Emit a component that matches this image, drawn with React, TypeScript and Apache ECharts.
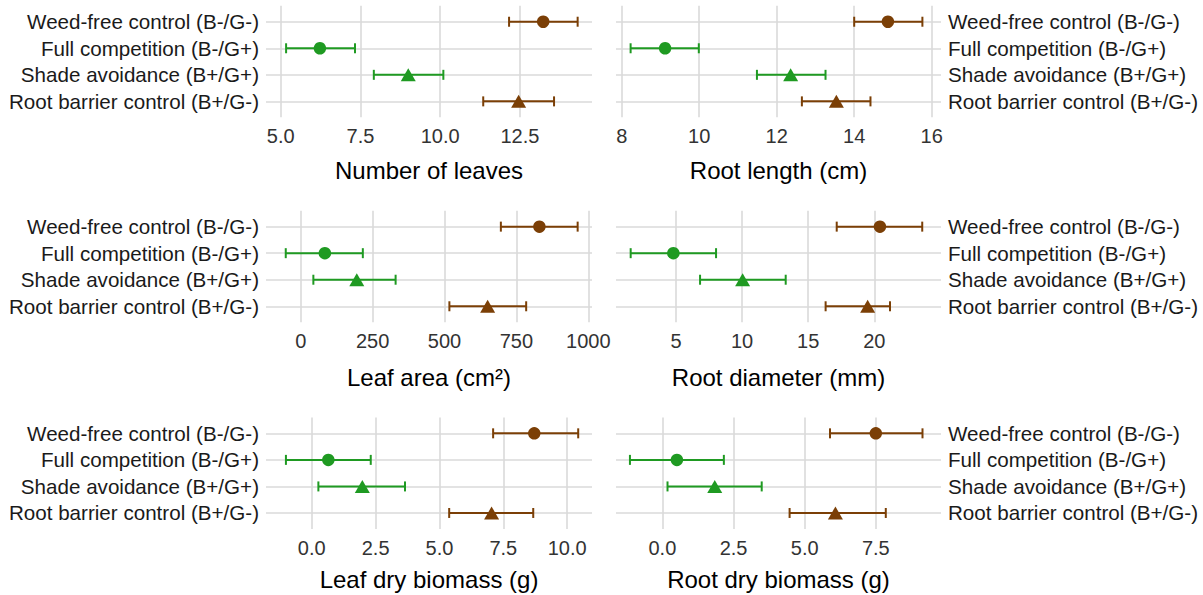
import React, { useEffect, useRef } from "react";
import * as echarts from "echarts";

// ---------- data ----------
const categories = [
  "Weed-free control (B-/G-)",
  "Full competition (B-/G+)",
  "Shade avoidance (B+/G+)",
  "Root barrier control (B+/G-)",
];
const categoryGroup = ["brown", "green", "green", "brown"];
const categoryShape = ["circle", "circle", "triangle", "triangle"];

const leavesMean = [13.23, 6.23, 9.0, 12.46];
const leavesLow = [12.16, 5.17, 7.92, 11.35];
const leavesHigh = [14.31, 7.33, 10.1, 13.57];
const leavesTicks = [5, 7.5, 10, 12.5];

const rootLengthMean = [14.87, 9.12, 12.36, 13.54];
const rootLengthLow = [14.0, 8.23, 11.49, 12.65];
const rootLengthHigh = [15.76, 9.99, 13.26, 14.42];
const rootLengthTicks = [8, 10, 12, 14, 16];

const leafAreaMean = [830, 84, 195, 650];
const leafAreaLow = [696, -52, 44, 517];
const leafAreaHigh = [963, 216, 330, 784];
const leafAreaTicks = [0, 250, 500, 750, 1000];

const rootDiameterMean = [20.43, 4.8, 10.04, 19.5];
const rootDiameterLow = [17.16, 1.57, 6.82, 16.32];
const rootDiameterHigh = [23.63, 8.03, 13.3, 21.19];
const rootDiameterTicks = [5, 10, 15, 20];

const leafBiomassMean = [8.71, 0.65, 1.98, 7.04];
const leafBiomassLow = [7.1, -1.01, 0.26, 5.38];
const leafBiomassHigh = [10.43, 2.31, 3.65, 8.67];
const leafBiomassTicks = [0, 2.5, 5, 7.5, 10];

const rootBiomassMean = [7.5, 0.51, 1.84, 6.08];
const rootBiomassLow = [5.89, -1.14, 0.18, 4.47];
const rootBiomassHigh = [9.14, 2.16, 3.49, 7.85];
const rootBiomassTicks = [0, 2.5, 5, 7.5];

const panels = [
  { title: "Number of leaves", mean: leavesMean, low: leavesLow, high: leavesHigh, ticks: leavesTicks, min: 4.54, max: 14.76, dec: 1 },
  { title: "Root length (cm)", mean: rootLengthMean, low: rootLengthLow, high: rootLengthHigh, ticks: rootLengthTicks, min: 7.853, max: 16.24, dec: 0 },
  { title: "Leaf area (cm²)", mean: leafAreaMean, low: leafAreaLow, high: leafAreaHigh, ticks: leafAreaTicks, min: -120.7, max: 1012.9, dec: 0 },
  { title: "Root diameter (mm)", mean: rootDiameterMean, low: rootDiameterLow, high: rootDiameterHigh, ticks: rootDiameterTicks, min: 0.46, max: 25.05, dec: 0 },
  { title: "Leaf dry biomass (g)", mean: leafBiomassMean, low: leafBiomassLow, high: leafBiomassHigh, ticks: leafBiomassTicks, min: -1.79, max: 10.97, dec: 1 },
  { title: "Root dry biomass (g)", mean: rootBiomassMean, low: rootBiomassLow, high: rootBiomassHigh, ticks: rootBiomassTicks, min: -1.63, max: 9.79, dec: 1 },
];

// ---------- styles ----------
const COLORS: Record<string, string> = { brown: "#7b3f06", green: "#1f9a22" };
const FONT = "Liberation Sans, Arial, sans-serif";
const GRID_COLOR = "#dadada";
const COL_LEFT = [266, 616];
const COL_WIDTH = [326, 325];
const ROW_TOP = [5.8, 210.7, 417.4];
const ROW_HEIGHT = 111.5;
const NAME_GAP = [41, 43, 39];

export default function App() {
  const ref = useRef<HTMLDivElement>(null);

  useEffect(() => {
    if (!ref.current) return;
    const chart = echarts.init(ref.current, undefined, { renderer: "svg" });

    const grids: any[] = [];
    const xAxes: any[] = [];
    const yAxes: any[] = [];
    const series: any[] = [];
    const catPos = [1, 2, 3, 4];

    panels.forEach((p, i) => {
      const col = i % 2;
      const row = Math.floor(i / 2);
      grids.push({
        left: COL_LEFT[col],
        top: ROW_TOP[row],
        width: COL_WIDTH[col],
        height: ROW_HEIGHT,
        containLabel: false,
        outerBoundsMode: "none",
      });
      xAxes.push({
        type: "value",
        gridIndex: i,
        min: p.min,
        max: p.max,
        axisLine: { show: false },
        axisTick: { show: false, customValues: p.ticks },
        axisLabel: {
          customValues: p.ticks,
          formatter: (v: number) => v.toFixed(p.dec),
          fontSize: 20,
          fontFamily: FONT,
          color: "#333333",
          margin: 9,
        },
        splitLine: { show: true, lineStyle: { color: GRID_COLOR, width: 1.6 } },
        name: p.title,
        nameLocation: "middle",
        nameGap: NAME_GAP[row],
        nameMoveOverlap: false,
        nameTextStyle: { fontSize: 24, fontFamily: FONT, color: "#000000" },
      });
      yAxes.push({
        type: "value",
        gridIndex: i,
        inverse: true,
        min: 0.4,
        max: 4.6,
        position: col === 0 ? "left" : "right",
        axisLine: { show: false },
        axisTick: { show: false, customValues: catPos },
        axisLabel: {
          customValues: catPos,
          formatter: (v: number) => categories[Math.round(v) - 1] ?? "",
          fontSize: 20.6,
          fontFamily: FONT,
          color: "#1a1a1a",
          margin: 7,
        },
        splitLine: { show: true, lineStyle: { color: GRID_COLOR, width: 1.6 } },
      });
      series.push({
        type: "custom",
        xAxisIndex: i,
        yAxisIndex: i,
        z: 2,
        encode: { x: [0, 1], y: 2 },
        data: categories.map((_, k) => [p.low[k], p.high[k], catPos[k], k]),
        renderItem: (params: any, api: any) => {
          const k = api.value(3);
          const color = COLORS[categoryGroup[k]];
          const a = api.coord([api.value(0), api.value(2)]);
          const b = api.coord([api.value(1), api.value(2)]);
          const cap = 5;
          const style = { stroke: color, lineWidth: 2, fill: "none" };
          return {
            type: "group",
            children: [
              { type: "line", shape: { x1: a[0], y1: a[1], x2: b[0], y2: b[1] }, style },
              { type: "line", shape: { x1: a[0], y1: a[1] - cap, x2: a[0], y2: a[1] + cap }, style },
              { type: "line", shape: { x1: b[0], y1: b[1] - cap, x2: b[0], y2: b[1] + cap }, style },
            ],
          };
        },
      });
      series.push({
        type: "scatter",
        xAxisIndex: i,
        yAxisIndex: i,
        z: 3,
        data: categories.map((_, k) => ({
          value: [p.mean[k], catPos[k]],
          symbol: categoryShape[k],
          symbolSize: categoryShape[k] === "circle" ? 12.5 : [15, 13],
          itemStyle: { color: COLORS[categoryGroup[k]], opacity: 1 },
        })),
      });
    });

    chart.setOption({
      animation: false,
      backgroundColor: "#ffffff",
      grid: grids,
      xAxis: xAxes,
      yAxis: yAxes,
      series,
    });

    return () => chart.dispose();
  }, []);

  return (
    <div
      ref={ref}
      style={{ position: "fixed", left: 0, top: 0, width: 1203, height: 595, background: "#fff" }}
    />
  );
}
